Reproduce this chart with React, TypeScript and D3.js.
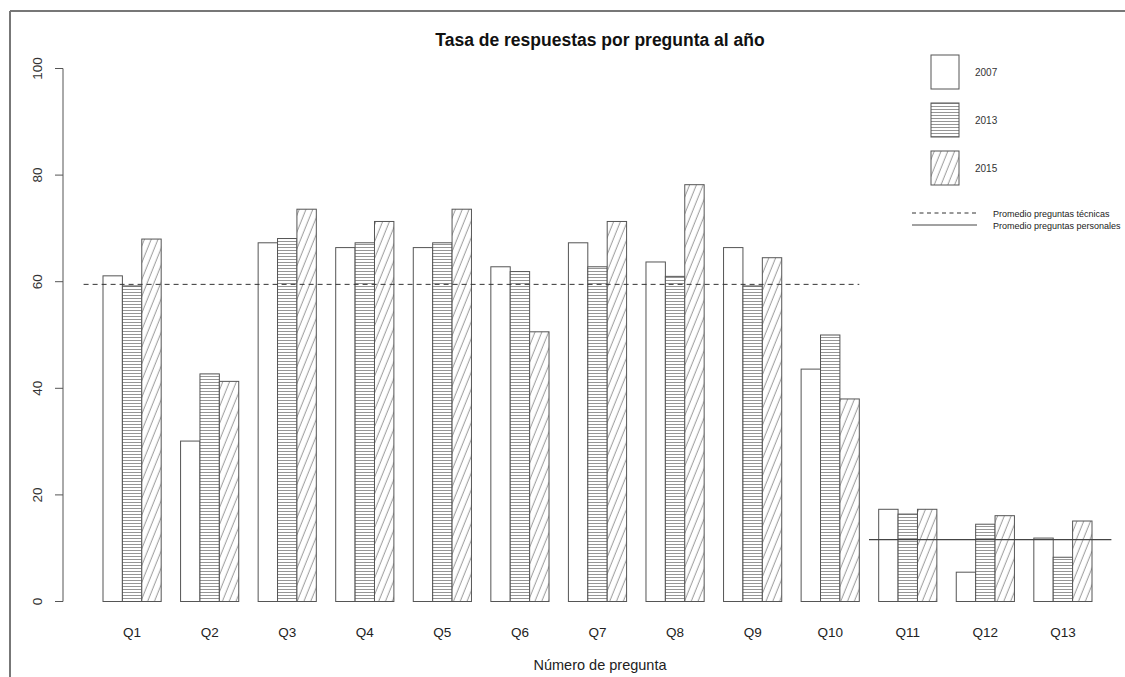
import React from "react";
import * as d3 from "d3";

const categories = ["Q1","Q2","Q3","Q4","Q5","Q6","Q7","Q8","Q9","Q10","Q11","Q12","Q13"];
const v2007 = [61.1, 30.1, 67.3, 66.4, 66.4, 62.8, 67.3, 63.7, 66.4, 43.6, 17.3, 5.5, 11.9];
const v2013 = [59.2, 42.7, 68.1, 67.3, 67.3, 61.9, 62.8, 61.0, 59.2, 50.0, 16.4, 14.5, 8.3];
const v2015 = [68.0, 41.3, 73.6, 71.3, 73.6, 50.6, 71.3, 78.2, 64.5, 38.0, 17.3, 16.1, 15.1];
const years = ["2007", "2013", "2015"];
const yTicks = [0, 20, 40, 60, 80, 100];
const meanTecnicas = 59.5;
const meanPersonales = 11.6;
const legendLines = ["Promedio preguntas técnicas", "Promedio preguntas personales"];

const FONT = "'Liberation Sans', Arial, Helvetica, sans-serif";

export default function App() {
  const x = d3.scaleLinear().domain([1, 52]).range([103, 1092]);
  const y = d3.scaleLinear().domain([0, 100]).range([601.5, 68.5]);
  const unit = x(2) - x(1);
  const series = [v2007, v2013, v2015];
  const fills = ["white", "url(#hatchH)", "url(#hatchD)"];

  return (
    <svg width={1125} height={677} style={{ position: "absolute", left: 0, top: 0, background: "white" }}
      fontFamily={FONT}>
      <defs>
        <pattern id="hatchH" patternUnits="userSpaceOnUse" width={6} height={3}>
          <rect width={6} height={3} fill="white" />
          <line x1={0} x2={6} y1={1.5} y2={1.5} stroke="#8a8a8a" strokeWidth={0.9} />
        </pattern>
        <pattern id="hatchD" patternUnits="userSpaceOnUse" width={6.3} height={10} patternTransform="rotate(22)">
          <rect width={6.3} height={10} fill="white" />
          <line x1={3} x2={3} y1={0} y2={10} stroke="#8a8a8a" strokeWidth={0.9} />
        </pattern>
      </defs>
      <rect width={1125} height={677} fill="white" />
      {/* outer frame */}
      <line x1={10} x2={1125} y1={11} y2={11} stroke="#777" strokeWidth={2} />
      <line x1={10} x2={10} y1={11} y2={677} stroke="#777" strokeWidth={2} />

      {/* title */}
      <text x={600} y={46} textAnchor="middle" fontSize={17.5} fontWeight="bold" fill="#111">
        Tasa de respuestas por pregunta al año
      </text>

      {/* y axis */}
      <line x1={63} x2={63} y1={y(0)} y2={y(100)} stroke="#555" strokeWidth={1} />
      {yTicks.map((t) => (
        <g key={t}>
          <line x1={55} x2={63} y1={y(t)} y2={y(t)} stroke="#555" strokeWidth={1} />
          <text transform={`translate(42,${y(t)}) rotate(-90)`} textAnchor="middle" fontSize={13.5} fill="#333">
            {t}
          </text>
        </g>
      ))}

      {/* bars */}
      {categories.map((c, i) => (
        <g key={c}>
          {series.map((s, j) => {
            const u = 1 + 4 * i + j;
            return (
              <rect key={j} x={x(u)} y={y(s[i])} width={unit} height={y(0) - y(s[i])}
                fill={fills[j]} stroke="#555" strokeWidth={1} />
            );
          })}
          <text x={x(1 + 4 * i + 1.5)} y={637} textAnchor="middle" fontSize={13.5} fill="#222">{c}</text>
        </g>
      ))}

      {/* mean lines */}
      <line x1={x(0)} x2={x(40)} y1={y(meanTecnicas)} y2={y(meanTecnicas)} stroke="#333" strokeWidth={1} strokeDasharray="5,4" />
      <line x1={x(40.5)} x2={x(53)} y1={y(meanPersonales)} y2={y(meanPersonales)} stroke="#444" strokeWidth={1.2} />

      {/* x title */}
      <text x={600} y={670} textAnchor="middle" fontSize={14.5} fill="#222">Número de pregunta</text>

      {/* legend */}
      {years.map((yr, j) => (
        <g key={yr}>
          <rect x={931} y={55 + j * 48} width={28} height={34} fill={fills[j]} stroke="#555" strokeWidth={1} />
          <text x={975} y={76 + j * 48} fontSize={10} fill="#333">{yr}</text>
        </g>
      ))}
      <line x1={912} x2={977} y1={213} y2={213} stroke="#333" strokeWidth={1} strokeDasharray="4,3.5" />
      <text x={993} y={216.5} fontSize={9} fill="#222">{legendLines[0]}</text>
      <line x1={912} x2={977} y1={225} y2={225} stroke="#444" strokeWidth={1} />
      <text x={993} y={228.5} fontSize={9} fill="#222">{legendLines[1]}</text>
    </svg>
  );
}
